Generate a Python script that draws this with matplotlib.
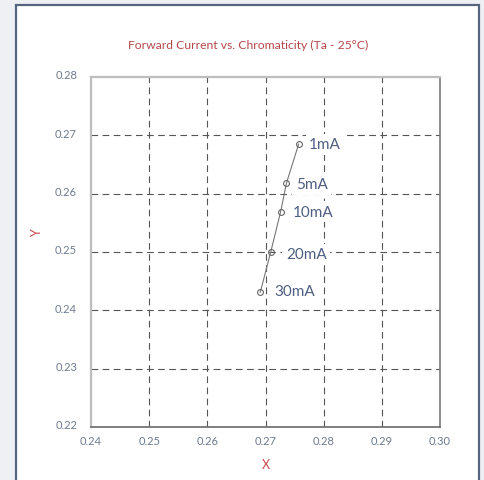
import matplotlib
matplotlib.use("Agg")
import matplotlib.pyplot as plt
from matplotlib.patches import Rectangle
from matplotlib.transforms import ScaledTranslation

plt.rcParams["font.family"] = ["Lato", "DejaVu Sans"]

# Data
x_vals = [0.2757, 0.2736, 0.2726, 0.2709, 0.2691]
y_vals = [0.2685, 0.2618, 0.2569, 0.2500, 0.2431]
labels = ["1mA", "5mA", "10mA", "20mA", "30mA"]
label_dx = [0.0018, 0.0016, 0.0021, 0.0026, 0.0024]
label_dy = [0.0, -0.0002, 0.0, -0.0004, 0.0002]
x_ticks = [0.24, 0.25, 0.26, 0.27, 0.28, 0.29, 0.30]
y_ticks = [0.22, 0.23, 0.24, 0.25, 0.26, 0.27, 0.28]
title = "Forward Current vs. Chromaticity (Ta - 25°C)"

W, H = 484, 481
fig = plt.figure(figsize=(W / 100, H / 100), dpi=100)
fig.patch.set_facecolor("#eef0f4")

# white panel with slate border
panel = Rectangle((16 / W, -0.05), (479 - 16) / W, (H - 6) / H + 0.05,
                  transform=fig.transFigure, facecolor="white",
                  edgecolor="#56657f", linewidth=1.6, zorder=-5)
fig.patches.append(panel)

ax = fig.add_axes([91 / W, 1 - 428 / H, (440 - 91) / W, (428 - 78) / H])
ax.set_zorder(1)
ax.set_facecolor("white")
ax.set_xlim(0.24, 0.30)
ax.set_ylim(0.22, 0.28)
ax.set_xticks(x_ticks)
ax.set_yticks(y_ticks)
ax.set_xticklabels([f"{v:.2f}" for v in x_ticks])
ax.set_yticklabels([f"{v:.2f}" for v in y_ticks])
ax.tick_params(length=0, labelsize=8, labelcolor="#6e7a90")
ax.tick_params(axis="x", pad=6)
ax.tick_params(axis="y", pad=10)
off = ScaledTranslation(0, 3 / 100, fig.dpi_scale_trans)
for lab in ax.get_yticklabels():
    lab.set_transform(lab.get_transform() + off)

for v in x_ticks[1:-1]:
    ax.axvline(v, color="#555555", lw=0.8, dashes=(6, 4), zorder=1)
for v in y_ticks[1:-1]:
    ax.axhline(v, color="#555555", lw=0.8, dashes=(6, 4), zorder=1)

ax.spines["left"].set_color("#bdbdbd")
ax.spines["left"].set_linewidth(1.6)
ax.spines["top"].set_color("#bdbdbd")
ax.spines["top"].set_linewidth(1.6)
ax.spines["right"].set_color("#7a7a7a")
ax.spines["right"].set_linewidth(1.2)
ax.spines["bottom"].set_color("#6a6a6a")
ax.spines["bottom"].set_linewidth(1.2)

ax.plot(x_vals, y_vals, color="#777777", lw=0.8, marker="o", markersize=4.2,
        markerfacecolor="none", markeredgecolor="#666666", markeredgewidth=0.8,
        zorder=3)
for xv, yv, lb, dx, dy in zip(x_vals, y_vals, labels, label_dx, label_dy):
    ax.text(xv + dx, yv + dy, lb, fontsize=11, color="#4f5f82",
            va="center", ha="left", zorder=4,
            bbox=dict(facecolor="white", edgecolor="none", pad=2.5))

fig.text(248 / W, 1 - 45 / H, title, color="#b5474a", fontsize=8.7,
         ha="center", va="center")
fig.text(266 / W, 1 - 465 / H, "X", color="#c9474a", fontsize=9,
         ha="center", va="center")
fig.text(37 / W, 1 - 233 / H, "Y", color="#c9474a", fontsize=9,
         ha="center", va="center", rotation=90)

fig.savefig("out.png", dpi=100, facecolor=fig.get_facecolor())
